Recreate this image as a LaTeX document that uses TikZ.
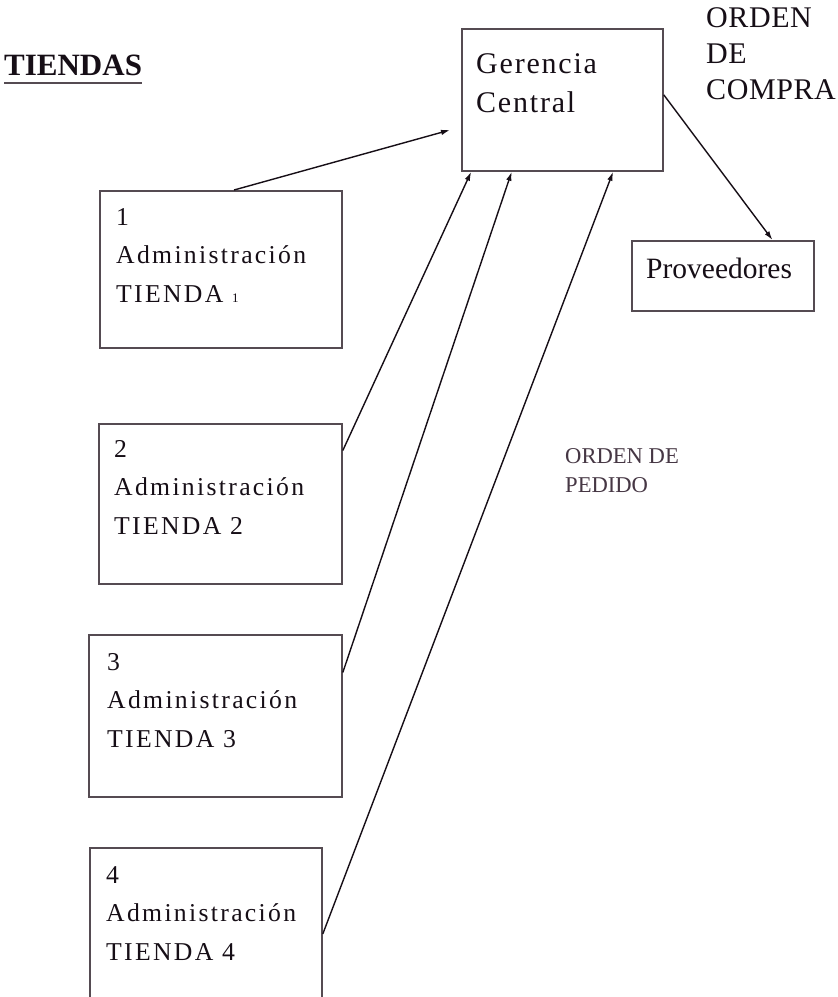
\documentclass[tikz,border=0pt]{standalone}
\usepackage{fontspec}
\setmainfont{Liberation Serif}
\newfontfamily\boxfont[LetterSpace=9]{Liberation Serif}
\newfontfamily\gerfont[LetterSpace=6]{Liberation Serif}
\newfontfamily\ordfont[LetterSpace=2]{Liberation Serif}
\usetikzlibrary{arrows.meta,calc}
\definecolor{ink}{RGB}{22,14,22}
\definecolor{boxline}{RGB}{85,75,82}
\definecolor{pedido}{RGB}{70,55,68}
\begin{document}
\begin{tikzpicture}[x=1pt,y=-1pt,
  box/.style={draw=boxline,line width=1.8pt,rectangle,anchor=north west,inner sep=0pt},
  txt/.style={anchor=north west,inner sep=0pt,align=left,text=ink},
  boxtxt/.style={txt,font=\boxfont\fontsize{25.7}{38.5}\selectfont},
  arr/.style={draw=ink,line width=1.4pt,-{Latex[length=9pt,width=5.5pt]}}]
\clip (0,0) rectangle (838,997);
\fill[white] (0,0) rectangle (838,997);
% title
\node[txt,font=\bfseries\fontsize{31}{31}\selectfont] (ti) at (4,55) {TIENDAS};
\draw[draw=boxline,line width=2.2pt] ([yshift=-7pt]ti.base west) -- ([yshift=-7pt]ti.base east);
% central
\node[box,minimum width=201pt,minimum height=142pt] (gc) at (461,28) {};
\node[txt,font=\gerfont\fontsize{30}{39}\selectfont] (gct) at (476,53) {Gerencia\\Central};
\node[txt,font=\ordfont\fontsize{30}{36}\selectfont] (oc) at (706,7) {ORDEN\\DE\\COMPRA};
\node[box,minimum width=182pt,minimum height=70pt] (pv) at (631,240) {};
\node[txt,font=\fontsize{29.5}{30}\selectfont] (pvt) at (646,258) {Proveedores};
\node[txt,text=pedido,font=\fontsize{22.6}{29}\selectfont] (op) at (565,448) {ORDEN DE\\PEDIDO};
% stores
\node[box,minimum width=242pt,minimum height=157pt] (b1) at (99,190) {};
\node[boxtxt] (t1) at (116,208) {1\\Administración\\TIENDA {\fontsize{13}{13}\selectfont 1}};
\node[box,minimum width=243pt,minimum height=160pt] (b2) at (98,423) {};
\node[boxtxt] (t2) at (114,440) {2\\Administración\\TIENDA 2};
\node[box,minimum width=253pt,minimum height=162pt] (b3) at (88,634) {};
\node[boxtxt] (t3) at (107,653) {3\\Administración\\TIENDA 3};
\node[box,minimum width=232pt,minimum height=170pt] (b4) at (89,847) {};
\node[boxtxt] (t4) at (106,866) {4\\Administración\\TIENDA 4};
% connectors
\coordinate (g1) at (450,130);
\draw[arr] ($(b1.north west)!0.554!(b1.north east)$) -- (g1);
\draw[arr] ($(b2.north east)!0.17!(b2.south east)$) -- ($(gc.south west)!0.05!(gc.south east)$);
\draw[arr] ($(b3.north east)!0.235!(b3.south east)$) -- ($(gc.south west)!0.25!(gc.south east)$);
\draw[arr] ($(b4.north east)!0.506!(b4.south east)$) -- ($(gc.south west)!0.75!(gc.south east)$);
\draw[arr] ($(gc.north east)!0.465!(gc.south east)$) -- ($(pv.north west)!0.77!(pv.north east)$);
\end{tikzpicture}
\end{document}
